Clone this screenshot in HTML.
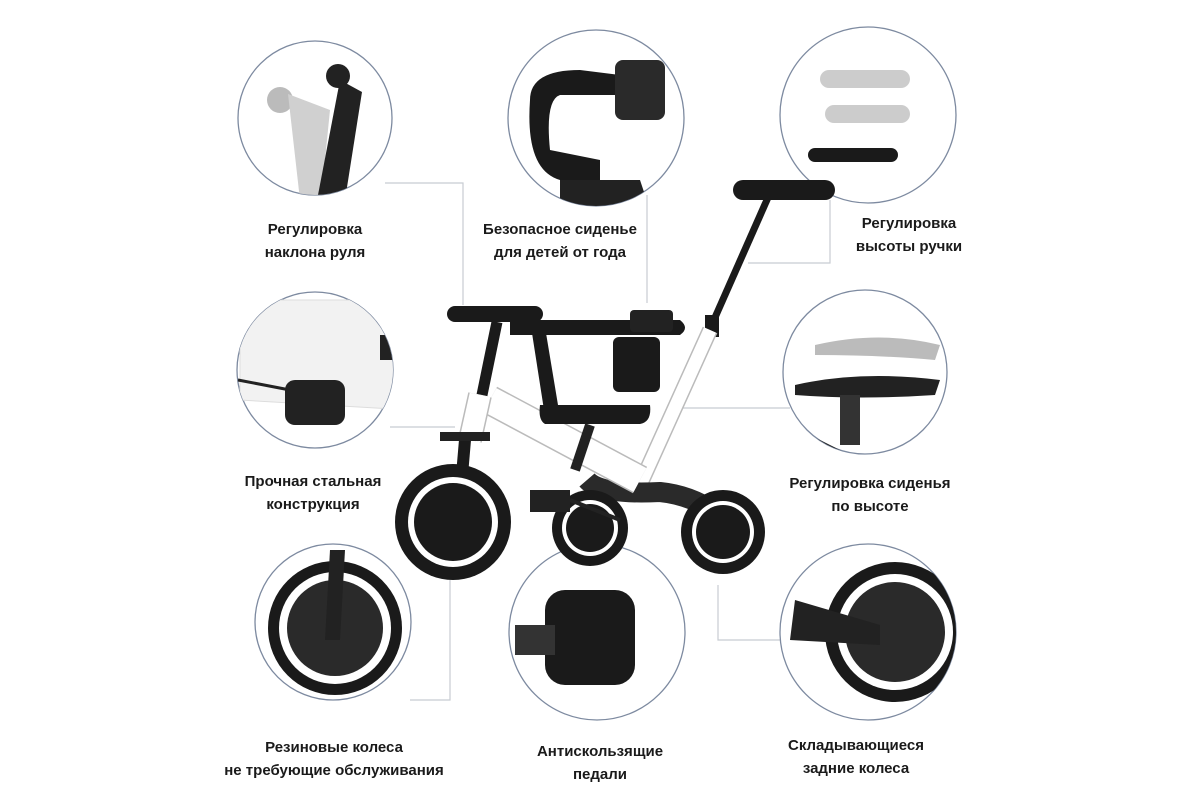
<!DOCTYPE html>
<html><head><meta charset="utf-8"><style>
body{margin:0;width:1200px;height:800px;background:#fff;overflow:hidden;position:relative;font-family:"Liberation Sans",sans-serif}
.l{position:absolute;font-weight:bold;font-size:15px;color:#1a1a1a;text-align:center;line-height:23px;width:260px}
svg{position:absolute;left:0;top:0}
</style></head><body>
<svg width="1200" height="800">
<defs>
<clipPath id="c1"><circle cx="315" cy="118" r="77"/></clipPath>
<clipPath id="c2"><circle cx="596" cy="118" r="88"/></clipPath>
<clipPath id="c3"><circle cx="868" cy="115" r="88"/></clipPath>
<clipPath id="c4"><circle cx="315" cy="370" r="78"/></clipPath>
<clipPath id="c5"><circle cx="865" cy="372" r="82"/></clipPath>
<clipPath id="c6"><circle cx="333" cy="622" r="78"/></clipPath>
<clipPath id="c7"><circle cx="597" cy="632" r="88"/></clipPath>
<clipPath id="c8"><circle cx="868" cy="632" r="88"/></clipPath>
</defs>
<g fill="none" stroke="#c8ccd2" stroke-width="1.2">
<path d="M385 183 H463 V305"/>
<path d="M647 195 V303"/>
<path d="M748 263 H830 V200"/>
<path d="M390 427 H455"/>
<path d="M675 408 H790"/>
<path d="M450 580 V700 H410"/>
<path d="M718 585 V640 H785"/>
</g>
<g fill="#fff" stroke="#7d8aa0" stroke-width="1.3">
<circle cx="315" cy="118" r="77"/>
<circle cx="596" cy="118" r="88"/>
<circle cx="868" cy="115" r="88"/>
<circle cx="315" cy="370" r="78"/>
<circle cx="865" cy="372" r="82"/>
<circle cx="333" cy="622" r="78"/>
<circle cx="597" cy="632" r="88"/>
<circle cx="868" cy="632" r="88"/>
</g>
<g clip-path="url(#c1)">
<circle cx="280" cy="100" r="13" fill="#bbb"/><path d="M288 94 L330 110 L325 160 L340 200 L300 200 Z" fill="#d0d0d0"/>
<path d="M340 80 L362 92 L345 200 L318 195 Z" fill="#222"/><circle cx="338" cy="76" r="12" fill="#222"/>
</g>
<g clip-path="url(#c2)">
<path d="M530 100 Q530 70 580 70 L620 75 L620 95 L560 95 Q545 100 550 150 L600 160 L600 180 L560 180 Q525 170 530 100Z" fill="#1a1a1a"/>
<rect x="615" y="60" width="50" height="60" rx="8" fill="#2a2a2a"/>
<path d="M560 180 L640 180 L650 210 L560 210Z" fill="#222"/>
</g>
<g clip-path="url(#c3)">
<rect x="820" y="70" width="90" height="18" rx="9" fill="#ccc"/><rect x="825" y="105" width="85" height="18" rx="9" fill="#ccc"/>
<rect x="808" y="148" width="90" height="14" rx="7" fill="#1a1a1a"/>
</g>
<g clip-path="url(#c4)">
<path d="M240 300 L395 300 L410 410 L240 400 Z" fill="#f2f2f2" stroke="#ddd"/>
<rect x="380" y="335" width="20" height="25" fill="#222"/><rect x="285" y="380" width="60" height="45" rx="10" fill="#222"/>
<path d="M238 380 L290 390" stroke="#222" stroke-width="3"/>
</g>
<g clip-path="url(#c5)">
<path d="M815 345 Q880 330 940 345 L935 360 Q880 355 815 355Z" fill="#bbb"/>
<path d="M795 385 Q860 370 940 380 L935 395 Q860 400 795 395Z" fill="#222"/><rect x="840" y="395" width="20" height="50" fill="#333"/>
<path d="M800 430 L860 460 L800 470Z" fill="#222"/>
</g>
<g clip-path="url(#c6)">
<circle cx="335" cy="628" r="67" fill="#1a1a1a"/><circle cx="335" cy="628" r="56" fill="#fff"/><circle cx="335" cy="628" r="48" fill="#2a2a2a"/>
<path d="M330 550 L345 550 L340 640 L325 640Z" fill="#222"/>
</g>
<g clip-path="url(#c7)">
<rect x="545" y="590" width="90" height="95" rx="20" fill="#1a1a1a"/><rect x="515" y="625" width="40" height="30" fill="#333"/>
</g>
<g clip-path="url(#c8)">
<circle cx="895" cy="632" r="70" fill="#1a1a1a"/><circle cx="895" cy="632" r="58" fill="#fff"/><circle cx="895" cy="632" r="50" fill="#2a2a2a"/>
<path d="M795 600 L880 625 L880 645 L790 640Z" fill="#222"/>
</g>
<!-- tricycle -->
<g>
<path d="M713 322 L770 193" stroke="#1a1a1a" stroke-width="7"/>
<rect x="733" y="180" width="102" height="20" rx="10" fill="#1a1a1a"/>
<rect x="705" y="315" width="14" height="22" fill="#1a1a1a"/>
<path d="M710 330 L640 485" stroke="#bbb" stroke-width="16"/>
<path d="M710 330 L640 485" stroke="#fff" stroke-width="13"/>
<path d="M587 480 Q600 495 660 492 Q690 495 715 512" stroke="#2a2a2a" stroke-width="20" fill="none"/>
<path d="M490 400 L640 480" stroke="#bbb" stroke-width="30"/>
<path d="M490 400 L640 480" stroke="#fff" stroke-width="27"/>
<path d="M480 395 L470 440" stroke="#bbb" stroke-width="24"/>
<path d="M480 395 L470 440" stroke="#fff" stroke-width="21"/>
<path d="M497 322 L482 395" stroke="#1a1a1a" stroke-width="11"/>
<rect x="447" y="306" width="96" height="16" rx="8" fill="#1a1a1a"/>
<path d="M510 320 H680 Q690 328 680 335 H510Z" fill="#1a1a1a"/>
<rect x="630" y="310" width="43" height="22" rx="4" fill="#222"/>
<path d="M532 333 L546 333 L558 405 L544 410Z" fill="#1a1a1a"/>
<rect x="613" y="337" width="47" height="55" rx="6" fill="#1a1a1a"/>
<path d="M540 405 L650 405 Q652 422 640 424 L545 424 Q538 420 540 405Z" fill="#1a1a1a"/>
<path d="M590 425 L575 470" stroke="#222" stroke-width="10"/>
<path d="M465 440 L458 522" stroke="#1a1a1a" stroke-width="12"/>
<rect x="440" y="432" width="50" height="9" fill="#222"/>
<circle cx="453" cy="522" r="58" fill="#1a1a1a"/><circle cx="453" cy="522" r="45" fill="#fff"/><circle cx="453" cy="522" r="39" fill="#1a1a1a"/>
<circle cx="590" cy="528" r="38" fill="#1a1a1a"/><circle cx="590" cy="528" r="28" fill="#fff"/><circle cx="590" cy="528" r="24" fill="#1a1a1a"/>
<circle cx="723" cy="532" r="42" fill="#1a1a1a"/><circle cx="723" cy="532" r="31" fill="#fff"/><circle cx="723" cy="532" r="27" fill="#1a1a1a"/>
<rect x="530" y="490" width="40" height="22" fill="#222"/>
<path d="M570 500 L620 520" stroke="#222" stroke-width="4"/>
</g>
</svg>
<div class="l" style="left:185px;top:218px">Регулировка<br>наклона руля</div>
<div class="l" style="left:430px;top:218px">Безопасное сиденье<br>для детей от года</div>
<div class="l" style="left:779px;top:212px">Регулировка<br>высоты ручки</div>
<div class="l" style="left:183px;top:470px">Прочная стальная<br>конструкция</div>
<div class="l" style="left:740px;top:472px">Регулировка сиденья<br>по высоте</div>
<div class="l" style="left:204px;top:736px">Резиновые колеса<br>не требующие обслуживания</div>
<div class="l" style="left:470px;top:740px">Антискользящие<br>педали</div>
<div class="l" style="left:726px;top:734px">Складывающиеся<br>задние колеса</div>
</body></html>
